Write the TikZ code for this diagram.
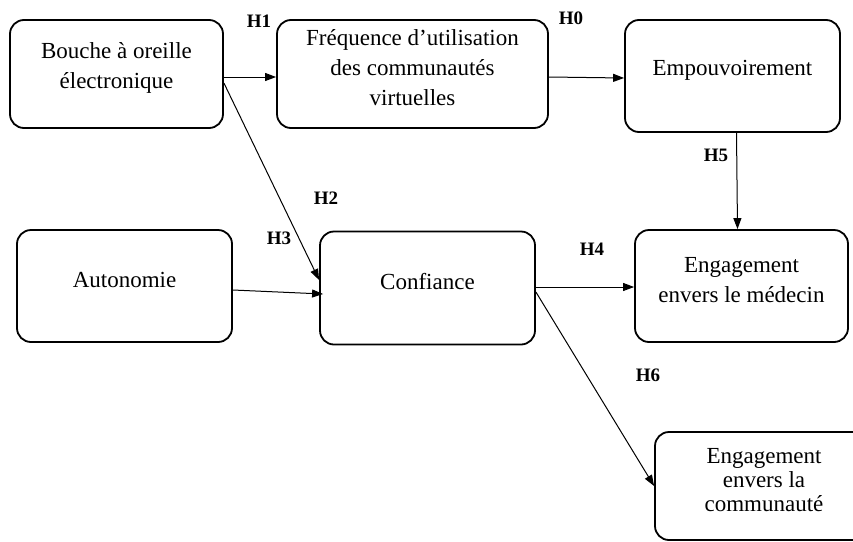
\documentclass[tikz,border=0pt]{standalone}
\usepackage{fontspec}
\setmainfont{Liberation Serif}
\usetikzlibrary{shapes}
\usetikzlibrary{arrows.meta}
\tikzstyle{constr} = [rectangle, rounded corners=14pt, draw=black, line width=1.8pt,
fill=white, inner sep=0pt]
\tikzstyle{caption} = [font=\fontsize{23}{30}\selectfont, align=center, yshift=6pt]
\tikzstyle{hyp} = [font=\fontsize{19}{19}\selectfont\bfseries, inner sep=1pt]
\tikzstyle{link} = [->, >={Triangle[length=11pt, width=8pt]}, line width=1pt]
\newcommand{\construct}[6][]{ %
  % Draw the box #2 of size #4 x #5 centred at #3, its text as a label
  \node[constr, minimum width=#4, minimum height=#5,
  label={[name=#2-caption, caption, #1]center:#6}, name=#2] at (#3) {} ; %
}

\begin{document}
\begin{tikzpicture}[x=1pt,y=-1pt]

	\useasboundingbox (0,0) rectangle (853,541);
	\clip (0,0) rectangle (853,541);

	% boxes
	\construct {bouche}   {116.5,74}  {213pt} {108pt} {Bouche à oreille\\électronique};
	\construct {freq}     {412.5,74}  {271pt} {108pt} {Fréquence d’utilisation\\des communautés\\virtuelles};
	\construct {empow}    {732.5,76}  {215pt} {112pt} {Empouvoirement};
	\construct {auto}     {124.5,286} {215pt} {112pt} {Autonomie};
	\construct {conf}     {427.5,288} {215pt} {113pt} {Confiance};
	\construct {medecin}  {741.5,286} {213pt} {112pt} {Engagement\\envers le médecin};
	\construct[font=\fontsize{23}{24}\selectfont] {commu} {764,486} {218pt} {108pt} {Engagement\\envers la\\communauté};

	% hypotheses
	\node[hyp] (h1) at (259,21)  {H1};
	\node[hyp] (h0) at (571,18)  {H0};
	\node[hyp] (h2) at (326,198) {H2};
	\node[hyp] (h3) at (279,238) {H3};
	\node[hyp] (h4) at (592,249) {H4};
	\node[hyp] (h5) at (716,155) {H5};
	\node[hyp] (h6) at (648,375) {H6};

	% links
	\draw[link] ([yshift=-3pt]bouche.east) -- ([yshift=-3pt]freq.west);
	\draw[link] ([yshift=-3pt]freq.east) -- ([yshift=-2pt]empow.west);
	\draw[link] ([yshift=-9pt]bouche.east) -- ([yshift=8pt]conf.west);
	\draw[link] ([yshift=-4pt]auto.east) -- ([xshift=4pt,yshift=-6pt]conf.west);
	\draw[link] ([yshift=1pt]conf.east) -- ([yshift=-1pt]medecin.west);
	\draw[link] ([xshift=4pt]empow.south) -- ([xshift=-4pt]medecin.north);
	\draw[link] ([yshift=-4pt]conf.east) -- (commu.west);

\end{tikzpicture}
\end{document}
